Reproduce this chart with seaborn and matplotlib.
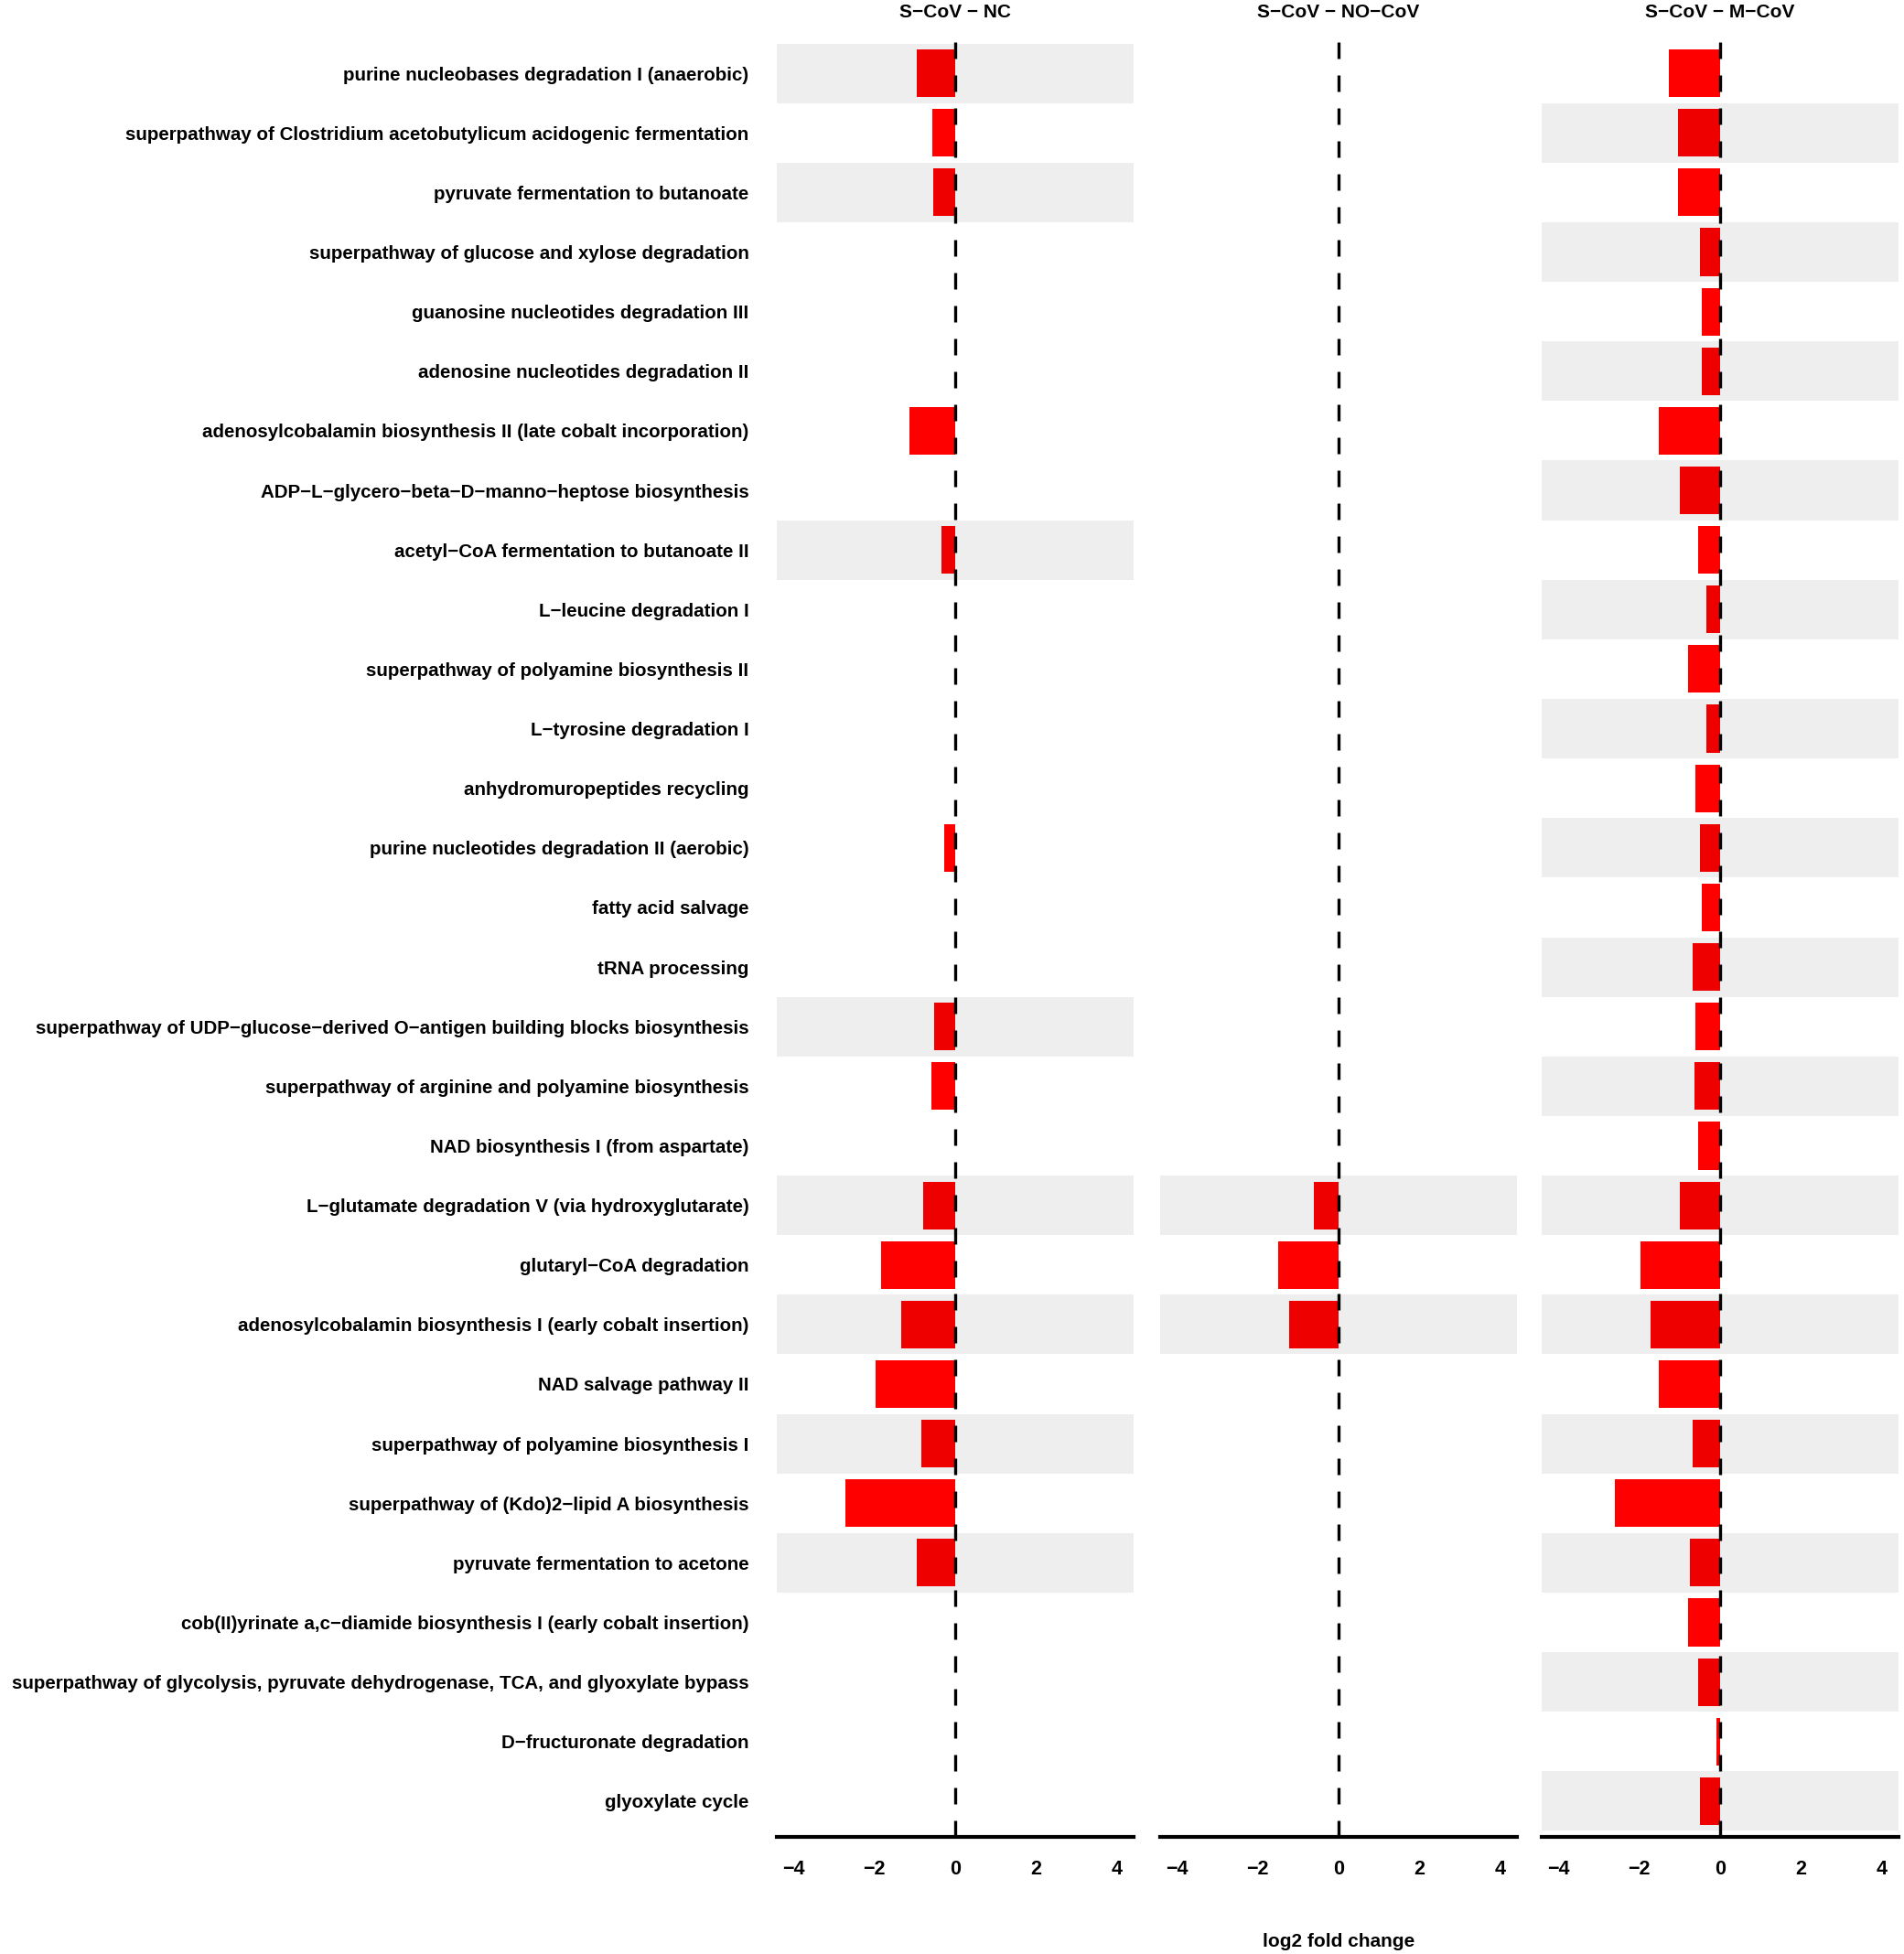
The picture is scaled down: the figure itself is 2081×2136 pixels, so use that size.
import numpy as np
import pandas as pd
import matplotlib
matplotlib.use('Agg')
import matplotlib.pyplot as plt
import seaborn as sns

# pathway rows, top to bottom
pathways = [
    'purine nucleobases degradation I (anaerobic)',
    'superpathway of Clostridium acetobutylicum acidogenic fermentation',
    'pyruvate fermentation to butanoate',
    'superpathway of glucose and xylose degradation',
    'guanosine nucleotides degradation III',
    'adenosine nucleotides degradation II',
    'adenosylcobalamin biosynthesis II (late cobalt incorporation)',
    'ADP\u2212L\u2212glycero\u2212beta\u2212D\u2212manno\u2212heptose biosynthesis',
    'acetyl\u2212CoA fermentation to butanoate II',
    'L\u2212leucine degradation I',
    'superpathway of polyamine biosynthesis II',
    'L\u2212tyrosine degradation I',
    'anhydromuropeptides recycling',
    'purine nucleotides degradation II (aerobic)',
    'fatty acid salvage',
    'tRNA processing',
    'superpathway of UDP\u2212glucose\u2212derived O\u2212antigen building blocks biosynthesis',
    'superpathway of arginine and polyamine biosynthesis',
    'NAD biosynthesis I (from aspartate)',
    'L\u2212glutamate degradation V (via hydroxyglutarate)',
    'glutaryl\u2212CoA degradation',
    'adenosylcobalamin biosynthesis I (early cobalt insertion)',
    'NAD salvage pathway II',
    'superpathway of polyamine biosynthesis I',
    'superpathway of (Kdo)2\u2212lipid A biosynthesis',
    'pyruvate fermentation to acetone',
    'cob(II)yrinate a,c\u2212diamide biosynthesis I (early cobalt insertion)',
    'superpathway of glycolysis, pyruvate dehydrogenase, TCA, and glyoxylate bypass',
    'D\u2212fructuronate degradation',
    'glyoxylate cycle',
]

comparisons = ['S\u2212CoV \u2212 NC', 'S\u2212CoV \u2212 NO\u2212CoV', 'S\u2212CoV \u2212 M\u2212CoV']

nan = np.nan
# log2 fold change per pathway (nan = not significant in that comparison)
lfc_nc = [-0.96, -0.57, -0.54, nan, nan, nan, -1.13, nan, -0.35, nan,
          nan, nan, nan, -0.28, nan, nan, -0.53, -0.58, nan, -0.79,
          -1.84, -1.34, -1.98, -0.85, -2.72, -0.95, nan, nan, nan, nan]
lfc_nocov = [nan] * 19 + [-0.61, -1.49, -1.22] + [nan] * 8
lfc_mcov = [-1.27, -1.05, -1.05, -0.51, -0.46, -0.45, -1.53, -1.00, -0.55, -0.35,
            -0.79, -0.33, -0.62, -0.51, -0.46, -0.67, -0.62, -0.64, -0.55, -1.00,
            -1.97, -1.73, -1.53, -0.68, -2.61, -0.75, -0.80, -0.55, -0.08, -0.51]

df = pd.DataFrame({'pathway': pathways,
                   comparisons[0]: lfc_nc,
                   comparisons[1]: lfc_nocov,
                   comparisons[2]: lfc_mcov})
df = df.melt(id_vars='pathway', var_name='comparison', value_name='lfc').dropna()

sns.set_style('white')
plt.rcParams['font.family'] = ['Liberation Sans', 'DejaVu Sans']
plt.rcParams['font.weight'] = 'bold'
plt.rcParams['text.color'] = 'black'
plt.rcParams['xtick.color'] = 'black'
plt.rcParams['ytick.color'] = 'black'

W, H = 2081, 2136
fig = plt.figure(figsize=(W / 100, H / 100), dpi=100)
lefts = [849, 1268, 1685]

for i, comp in enumerate(comparisons):
    ax = fig.add_axes([lefts[i] / W, (H - 2008) / H, 390 / W, 1967 / H])
    sub = df[df['comparison'] == comp]
    sns.barplot(data=sub, x='lfc', y='pathway', order=pathways, orient='h',
                color='#FF0000', saturation=1, width=0.8, linewidth=0,
                errorbar=None, ax=ax)

    # alternating shading over the rows that have a bar, starting from the bottom
    rows = sorted([pathways.index(p) for p in sub['pathway']], reverse=True)
    for k, r in enumerate(rows):
        if k % 2 == 0:
            ax.axhspan(r - 0.5, r + 0.5, color='black', alpha=0.067, lw=0, zorder=2)

    ax.axvline(0, color='black', lw=2.4, ls=(0, (5.4, 5.4)), zorder=3)

    ax.set_xlim(-4.42, 4.42)
    ax.set_ylim(29.6, -0.6)
    ax.set_xticks([-4, -2, 0, 2, 4])
    ax.set_xlabel('')
    ax.set_ylabel('')
    for s in ['top', 'right', 'left']:
        ax.spines[s].set_visible(False)
    ax.spines['bottom'].set_linewidth(3)
    ax.spines['bottom'].set_color('black')
    ax.tick_params(axis='x', length=15, width=2.2, labelsize=15.5, pad=3,
                   colors='black', labelcolor='black')
    ax.tick_params(axis='y', length=0, labelsize=14.8, pad=22, labelcolor='black')
    if i > 0:
        ax.set_yticklabels([])
    ax.set_title(comp, fontsize=15, fontweight='bold', pad=16, color='black')

fig.text(1463 / W, 1 - 2122 / H, 'log2 fold change', ha='center', va='center',
         fontsize=15, fontweight='bold', color='black')

fig.savefig('out.png', dpi=100)
